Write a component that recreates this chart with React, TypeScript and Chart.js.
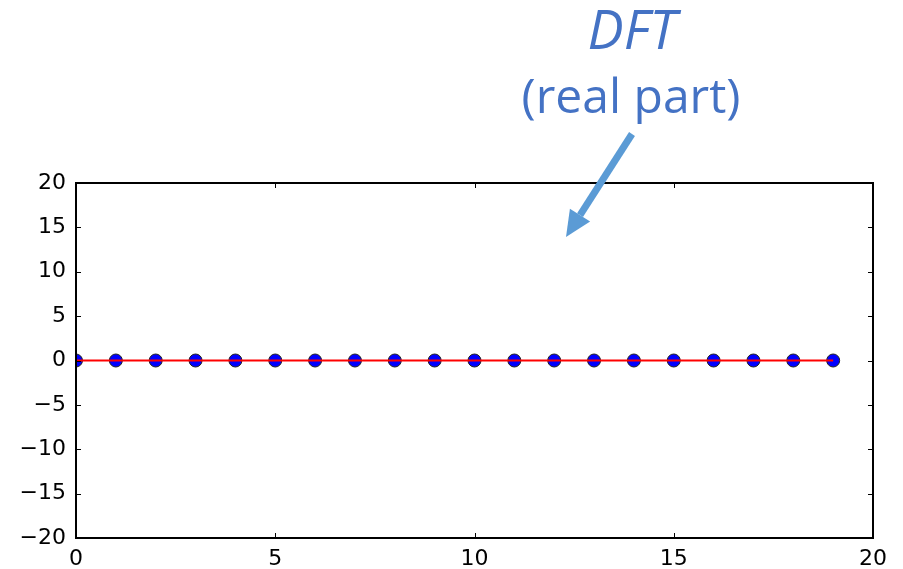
import React, { useEffect, useRef } from "react";
import { Chart, registerables } from "chart.js";

Chart.register(...registerables);

const xValues = [0, 1, 2, 3, 4, 5, 6, 7, 8, 9, 10, 11, 12, 13, 14, 15, 16, 17, 18, 19];
const realPart = [0, 0, 0, 0, 0, 0, 0, 0, 0, 0, 0, 0, 0, 0, 0, 0, 0, 0, 0, 0];
const baseline = [0, 0, 0, 0, 0, 0, 0, 0, 0, 0, 0, 0, 0, 0, 0, 0, 0, 0, 0, 0];
const titleLine1 = "DFT";
const titleLine2 = "(real part)";

const framePlugin = {
  id: "frameTicks",
  afterDatasetsDraw(chart: any) {
    const { ctx, chartArea: a, scales } = chart;
    ctx.save();
    ctx.strokeStyle = "#000";
    ctx.lineWidth = 1;
    const L = 5;
    scales.x.ticks.forEach((t: any) => {
      const px = Math.round(scales.x.getPixelForValue(t.value)) + 0.5;
      ctx.beginPath();
      ctx.moveTo(px, a.bottom);
      ctx.lineTo(px, a.bottom - L);
      ctx.moveTo(px, a.top);
      ctx.lineTo(px, a.top + L);
      ctx.stroke();
    });
    scales.y.ticks.forEach((t: any) => {
      const py = Math.round(scales.y.getPixelForValue(t.value)) + 0.5;
      ctx.beginPath();
      ctx.moveTo(a.left, py);
      ctx.lineTo(a.left + L, py);
      ctx.moveTo(a.right, py);
      ctx.lineTo(a.right - L, py);
      ctx.stroke();
    });
    ctx.lineWidth = 2;
    ctx.strokeRect(a.left, a.top, a.right - a.left, a.bottom - a.top);
    ctx.restore();
  },
  afterDraw(chart: any) {
    const { ctx } = chart;
    ctx.save();
    ctx.fillStyle = "#4472C4";
    ctx.textAlign = "center";
    ctx.textBaseline = "alphabetic";
    ctx.font = "italic 54px 'Open Sans'";
    ctx.fillText(titleLine1, 632, 49);
    ctx.font = "48px 'Open Sans'";
    ctx.fillText(titleLine2, 631, 113);
    // arrow
    const x1 = 632, y1 = 134, x2 = 566, y2 = 237;
    const ang = Math.atan2(y2 - y1, x2 - x1);
    const headLen = 26, headW = 12;
    const bx = x2 - headLen * Math.cos(ang);
    const by = y2 - headLen * Math.sin(ang);
    ctx.strokeStyle = "#5B9BD5";
    ctx.fillStyle = "#5B9BD5";
    ctx.lineWidth = 7;
    ctx.beginPath();
    ctx.moveTo(x1, y1);
    ctx.lineTo(bx, by);
    ctx.stroke();
    ctx.beginPath();
    ctx.moveTo(x2, y2);
    ctx.lineTo(bx + headW * Math.sin(ang), by - headW * Math.cos(ang));
    ctx.lineTo(bx - headW * Math.sin(ang), by + headW * Math.cos(ang));
    ctx.closePath();
    ctx.fill();
    ctx.restore();
  },
};

export default function App() {
  const ref = useRef<HTMLCanvasElement>(null);
  useEffect(() => {
    if (!ref.current) return;
    const fmt = (v: any) => String(v).replace("-", "\u2212");
    const chart = new Chart(ref.current, {
      type: "scatter",
      data: {
        datasets: [
          {
            type: "line",
            data: xValues.map((x, i) => ({ x, y: baseline[i] })),
            borderColor: "#ff0000",
            borderWidth: 2,
            pointRadius: 0,
            order: 0,
          } as any,
          {
            type: "scatter",
            data: xValues.map((x, i) => ({ x, y: realPart[i] })),
            backgroundColor: "#0000ff",
            borderColor: "#222222",
            borderWidth: 1,
            pointRadius: 6.5,
            order: 1,
          },
        ],
      },
      options: {
        animation: false,
        responsive: false,
        layout: { padding: { top: 183, right: 30, left: 0, bottom: 0 } },
        plugins: { legend: { display: false }, tooltip: { enabled: false } },
        scales: {
          x: {
            type: "linear",
            min: 0,
            max: 20,
            grid: { display: false, drawTicks: false },
            border: { display: false },
            ticks: {
              stepSize: 5,
              color: "#000",
              padding: 8,
              font: { family: "'DejaVu Sans'", size: 22 },
              callback: fmt,
            },
            afterFit: (s: any) => {
              s.height = 31;
            },
          },
          y: {
            min: -20,
            max: 20,
            grid: { display: false, drawTicks: false },
            border: { display: false },
            ticks: {
              stepSize: 5,
              color: "#000",
              padding: 10,
              font: { family: "'DejaVu Sans'", size: 22 },
              callback: fmt,
            },
            afterFit: (s: any) => {
              s.width = 76;
            },
          },
        },
      },
      plugins: [framePlugin],
    });
    return () => chart.destroy();
  }, []);
  return (
    <div style={{ position: "absolute", left: 0, top: 0, width: 903, height: 569, background: "#fff" }}>
      <canvas ref={ref} width={903} height={569} />
    </div>
  );
}
